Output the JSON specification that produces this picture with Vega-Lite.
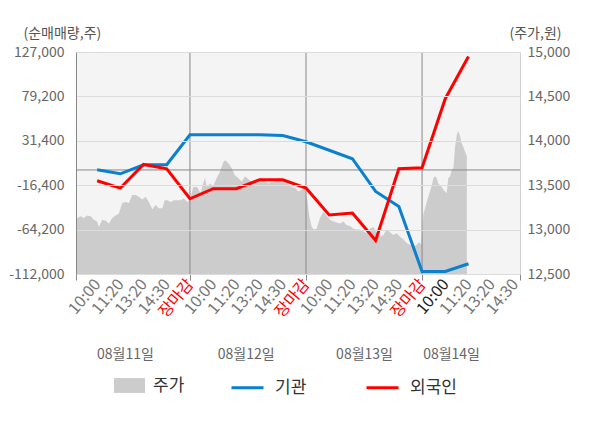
{
  "$schema": "https://vega.github.io/schema/vega-lite/v6.json",
  "width": 444,
  "height": 222,
  "autosize": {"type": "none"},
  "padding": {"left": 76, "top": 52, "right": 80, "bottom": 154},
  "background": "white",
  "config": {
    "view": {"stroke": null, "fill": "#f4f4f4"},
    "font": "Noto Sans CJK KR",
    "axis": {"labelFont": "Noto Sans CJK KR", "titleFont": "Noto Sans CJK KR", "labelColor": "#666", "titleColor": "#555", "labelFontSize": 14, "titleFontSize": 14, "titleFontWeight": "normal"},
    "legend": {"labelFont": "Noto Sans CJK KR", "labelFontSize": 17, "labelColor": "#333"}
  },
  "datasets": {
    "price": [
      {"t":0.09,"price":13090},{"t":0.14,"price":13130},{"t":0.29,"price":13150},{"t":0.43,"price":13130},{"t":0.57,"price":13160},{"t":0.72,"price":13150},{"t":0.86,"price":13110},{"t":1.00,"price":13090},{"t":1.08,"price":13030},{"t":1.22,"price":13110},{"t":1.37,"price":13100},{"t":1.51,"price":13070},{"t":1.65,"price":13130},{"t":1.80,"price":13160},{"t":1.94,"price":13180},{"t":2.08,"price":13300},{"t":2.23,"price":13310},{"t":2.37,"price":13300},{"t":2.51,"price":13390},{"t":2.66,"price":13390},{"t":2.80,"price":13370},{"t":2.94,"price":13340},{"t":3.09,"price":13370},{"t":3.23,"price":13310},{"t":3.38,"price":13230},{"t":3.52,"price":13280},{"t":3.66,"price":13240},{"t":3.81,"price":13240},{"t":3.91,"price":13330},{"t":4.02,"price":13330},{"t":4.17,"price":13310},{"t":4.31,"price":13330},{"t":4.45,"price":13330},{"t":4.60,"price":13330},{"t":4.74,"price":13350},{"t":4.88,"price":13310},{"t":5.00,"price":13330},
      {"t":5.14,"price":13480},{"t":5.31,"price":13480},{"t":5.46,"price":13410},{"t":5.57,"price":13520},{"t":5.65,"price":13580},{"t":5.72,"price":13480},{"t":5.86,"price":13520},{"t":6.00,"price":13490},{"t":6.15,"price":13580},{"t":6.29,"price":13650},{"t":6.44,"price":13760},{"t":6.51,"price":13780},{"t":6.65,"price":13750},{"t":6.80,"price":13690},{"t":6.94,"price":13610},{"t":7.08,"price":13580},{"t":7.23,"price":13540},{"t":7.37,"price":13600},{"t":7.51,"price":13570},{"t":7.66,"price":13540},{"t":7.80,"price":13560},{"t":7.94,"price":13560},{"t":8.09,"price":13580},{"t":8.23,"price":13540},{"t":8.38,"price":13520},{"t":8.52,"price":13540},{"t":8.66,"price":13540},{"t":8.81,"price":13580},{"t":8.95,"price":13560},{"t":9.09,"price":13560},{"t":9.24,"price":13520},{"t":9.38,"price":13480},{"t":9.53,"price":13470},{"t":9.67,"price":13430},{"t":9.81,"price":13450},{"t":9.96,"price":13480},
      {"t":10.06,"price":13330},{"t":10.14,"price":13150},{"t":10.25,"price":13030},{"t":10.34,"price":13000},{"t":10.46,"price":13010},{"t":10.60,"price":13130},{"t":10.75,"price":13200},{"t":10.89,"price":13160},{"t":11.03,"price":13110},{"t":11.18,"price":13090},{"t":11.32,"price":13080},{"t":11.47,"price":13070},{"t":11.61,"price":13090},{"t":11.75,"price":13050},{"t":11.90,"price":13040},{"t":12.04,"price":13010},{"t":12.19,"price":13000},{"t":12.33,"price":13000},{"t":12.47,"price":12980},{"t":12.62,"price":12960},{"t":12.76,"price":13010},{"t":12.90,"price":13030},{"t":13.05,"price":12960},{"t":13.19,"price":12920},{"t":13.33,"price":12940},{"t":13.48,"price":13000},{"t":13.62,"price":12970},{"t":13.76,"price":12940},{"t":13.91,"price":12960},{"t":14.05,"price":12920},{"t":14.19,"price":12890},{"t":14.34,"price":12850},{"t":14.48,"price":12830},{"t":14.63,"price":12810},{"t":14.77,"price":12830},{"t":14.87,"price":12860},{"t":14.96,"price":12830},
      {"t":15.06,"price":13180},{"t":15.13,"price":13240},{"t":15.20,"price":13310},{"t":15.27,"price":13370},{"t":15.34,"price":13430},{"t":15.42,"price":13500},{"t":15.49,"price":13580},{"t":15.56,"price":13600},{"t":15.63,"price":13580},{"t":15.70,"price":13520},{"t":15.78,"price":13500},{"t":15.85,"price":13480},{"t":15.92,"price":13450},{"t":15.99,"price":13430},{"t":16.06,"price":13410},{"t":16.13,"price":13580},{"t":16.21,"price":13600},{"t":16.28,"price":13670},{"t":16.35,"price":13690},{"t":16.42,"price":13930},{"t":16.50,"price":14070},{"t":16.56,"price":14110},{"t":16.64,"price":14050},{"t":16.71,"price":13970},{"t":16.78,"price":13930},{"t":16.85,"price":13880},{"t":16.93,"price":13820}
    ],
    "flow": [
      {"t":1,"series":"기관","value":200},{"t":2,"series":"기관","value":-4100},{"t":3,"series":"기관","value":5600},{"t":4,"series":"기관","value":5600},{"t":5,"series":"기관","value":37900},{"t":6,"series":"기관","value":37900},{"t":7,"series":"기관","value":37900},{"t":8,"series":"기관","value":37900},{"t":9,"series":"기관","value":37000},{"t":10,"series":"기관","value":30400},{"t":11,"series":"기관","value":21200},{"t":12,"series":"기관","value":12100},{"t":13,"series":"기관","value":-23100},{"t":14,"series":"기관","value":-39300},{"t":15,"series":"기관","value":-109300},{"t":16,"series":"기관","value":-109300},{"t":17,"series":"기관","value":-101000},
      {"t":1,"series":"외국인","value":-11600},{"t":2,"series":"외국인","value":-19500},{"t":3,"series":"외국인","value":5900},{"t":4,"series":"외국인","value":1300},{"t":5,"series":"외국인","value":-31000},{"t":6,"series":"외국인","value":-20200},{"t":7,"series":"외국인","value":-20200},{"t":8,"series":"외국인","value":-10500},{"t":9,"series":"외국인","value":-10500},{"t":10,"series":"외국인","value":-19500},{"t":11,"series":"외국인","value":-48400},{"t":12,"series":"외국인","value":-46400},{"t":13,"series":"외국인","value":-76000},{"t":14,"series":"외국인","value":1300},{"t":15,"series":"외국인","value":2400},{"t":16,"series":"외국인","value":76700},{"t":17,"series":"외국인","value":122200}
    ],
    "days": [{"t":5},{"t":10},{"t":15}],
    "zero": [{"v":0}]
  },
  "layer": [
    {
      "data": {"name": "price"},
      "mark": {"type": "area", "interpolate": "linear"},
      "encoding": {
        "x": {"field": "t", "type": "quantitative", "scale": {"domain": [0.09, 19.22], "nice": false, "zero": false},
              "axis": {"orient": "bottom", "values": [0.09, 5, 10, 15, 19.22], "labels": false, "ticks": true, "tickColor": "#888", "tickSize": 6, "domainColor": "#888", "grid": false, "title": null}},
        "y": {"field": "price", "type": "quantitative", "scale": {"domain": [12500, 15000], "nice": false, "zero": false},
              "axis": {"orient": "right", "values": [12500, 13000, 13500, 14000, 14500, 15000], "format": ",.0f", "grid": false, "ticks": false, "labelPadding": 7, "domainColor": "#d0d0d0", "title": "(주가,원)", "titleAngle": 0, "titleAlign": "left", "titleBaseline": "middle", "titleX": -11, "titleY": -19}},
        "y2": {"datum": 12500},
        "fill": {"datum": "주가", "type": "nominal", "scale": {"domain": ["주가"], "range": ["#cccccc"]},
                 "legend": {"orient": "none", "legendX": 38, "legendY": 318, "title": null, "symbolType": "M-1,-0.48H1V0.48H-1Z", "symbolSize": 961, "symbolStrokeWidth": 0, "labelOffset": 8, "padding": 0}}
      }
    },
    {
      "data": {"name": "days"},
      "mark": {"type": "rule", "color": "#888", "strokeWidth": 1},
      "encoding": {
        "x": {"field": "t", "type": "quantitative",
              "axis": {"orient": "bottom", "values": [2.2, 7.4, 12.5, 16.25], "labelExpr": "datum.value < 5 ? '08월11일' : datum.value < 10 ? '08월12일' : datum.value < 15 ? '08월13일' : '08월14일'", "labelAngle": 0, "labelPadding": 73, "labelBaseline": "top", "labelAlign": "center", "ticks": false, "domain": false, "grid": false, "title": null, "labelFlush": false, "labelOverlap": false}}
      }
    },
    {
      "data": {"name": "zero"},
      "mark": {"type": "rule", "color": "#888", "strokeWidth": 1},
      "encoding": {
        "y": {"field": "v", "type": "quantitative", "scale": {"domain": [-112000, 127000], "nice": false, "zero": false}, "axis": null}
      }
    },
    {
      "data": {"name": "flow"},
      "mark": {"type": "line", "strokeWidth": 3},
      "encoding": {
        "x": {"field": "t", "type": "quantitative",
              "axis": {"orient": "bottom", "values": [1,2,3,4,5,6,7,8,9,10,11,12,13,14,15,16,17,18,19], "labelExpr": "['장마감','10:00','11:20','13:20','14:30'][datum.value % 5]", "labelAngle": -50, "labelFontSize": 16, "labelColor": {"condition": [{"test": "datum.value % 5 == 0", "value": "#ff0000"}, {"test": "datum.value == 16", "value": "#222222"}], "value": "#777777"}, "ticks": false, "domain": false, "grid": false, "labelPadding": 7, "title": null, "labelOverlap": false, "labelFlush": false}},
        "y": {"field": "value", "type": "quantitative", "scale": {"domain": [-112000, 127000], "nice": false, "zero": false},
              "axis": {"orient": "left", "values": [-112000, -64200, -16400, 31400, 79200, 127000], "labelExpr": "replace(format(datum.value, ',.0f'), '\u2212', '-')", "grid": true, "gridColor": "#dcdcdc", "ticks": false, "labelPadding": 12, "domainColor": "#888", "title": "(순매매량,주)", "titleAngle": 0, "titleAlign": "left", "titleBaseline": "middle", "titleX": -53, "titleY": -19, "zindex": 1}},
        "stroke": {"field": "series", "type": "nominal", "scale": {"domain": ["기관", "외국인"], "range": ["#0a80cf", "#ff0000"]},
                   "legend": {"orient": "none", "direction": "horizontal", "legendX": 154, "legendY": 318, "title": null, "symbolType": "stroke", "symbolStrokeWidth": 3, "symbolSize": 1024, "labelOffset": 10, "columnPadding": 53, "padding": 0}}
      }
    }
  ],
  "resolve": {"scale": {"y": "independent"}, "axis": {"x": "independent", "y": "independent"}}
}
